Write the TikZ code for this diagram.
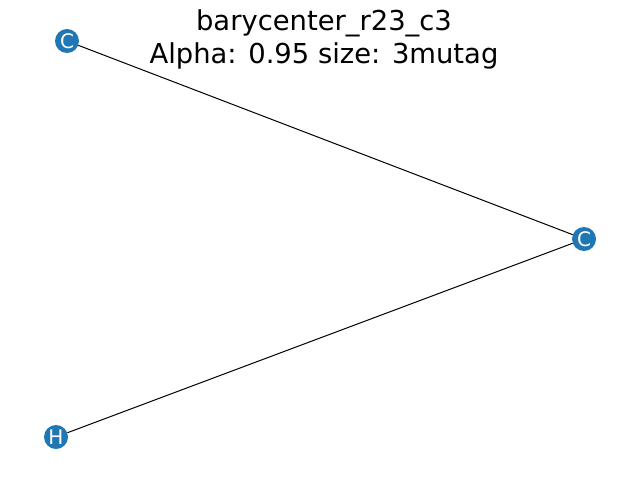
\documentclass[tikz,border=0pt]{standalone}
\usepackage{fontspec}
\setmainfont{DejaVu Sans}
\definecolor{nodeblue}{HTML}{1F77B4}
\begin{document}
\begin{tikzpicture}[x=1pt,y=-1pt]
\useasboundingbox (0,0) rectangle (640,480);
\tikzset{atom/.style={circle, fill=nodeblue, inner sep=0pt, minimum size=24pt, text=white, font=\fontsize{20}{20}\selectfont}}
\node[align=center, font=\fontsize{27.4}{33}\selectfont] (title) at (324,39) {barycenter\_r23\_c3\\Alpha: 0.95 size: 3mutag};
\node[atom] (c1) at (67,41) {C};
\node[atom] (c2) at (584,239) {C};
\node[atom] (h) at (56,437) {H};
\draw[line width=1pt] (c1) -- (c2);
\draw[line width=1pt] (h) -- (c2);
\end{tikzpicture}
\end{document}
